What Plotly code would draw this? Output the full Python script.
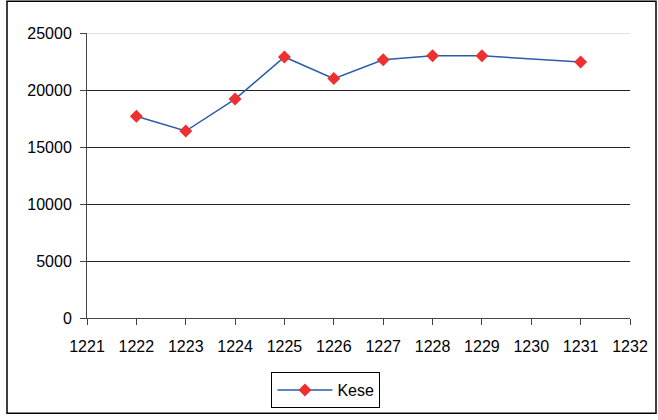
import plotly.graph_objects as go

years = [1222, 1223, 1224, 1225, 1226, 1227, 1228, 1229, 1231]
kese = [17700, 16400, 19200, 22900, 21000, 22650, 23000, 23000, 22450]
series_name = "Kese"
x_ticks = list(range(1221, 1233))
y_ticks = [0, 5000, 10000, 15000, 20000, 25000]
y_tick_labels = [str(v) for v in y_ticks]

fig = go.Figure()
fig.add_trace(go.Scatter(
    x=years, y=kese, name=series_name, mode="lines+markers",
    line=dict(color="#2a5caa", width=1.5),
    marker=dict(symbol="diamond", size=10, color="#ee3030", line=dict(width=0)),
))

font = dict(family="Liberation Sans, Arial, sans-serif", size=16, color="#000")
fig.update_layout(
    width=658, height=420,
    margin=dict(l=87, r=28, t=33, b=100),
    paper_bgcolor="white", plot_bgcolor="white",
    font=font,
    showlegend=True,
    legend=dict(x=0.44, y=-0.19, xanchor="center", yanchor="top",
                bordercolor="#000", borderwidth=1, bgcolor="white",
                itemwidth=55, font=font),
    xaxis=dict(range=[1221, 1232], tickvals=x_ticks, showgrid=False,
               showline=True, linecolor="#444", linewidth=1,
               ticks="outside", ticklen=6, tickcolor="#444",
               ticklabelstandoff=8,
               zeroline=False, tickfont=font, automargin=False),
    yaxis=dict(range=[0, 25000], tickvals=y_ticks, ticktext=y_tick_labels,
               showgrid=True, gridcolor="#222", gridwidth=1,
               showline=True, linecolor="#444", linewidth=1,
               ticks="outside", ticklen=6, tickcolor="#444",
               ticklabelstandoff=5,
               zeroline=False, tickfont=font, automargin=False),
    shapes=[
        dict(type="line", xref="paper", yref="y", x0=0, x1=1, y0=25000, y1=25000,
             line=dict(color="#d8d8d8", width=1.5)),
        dict(type="rect", xref="paper", yref="paper",
             x0=(7 - 87) / 543, x1=(656 - 87) / 543,
             y0=(320 - 416) / 287, y1=(320 - 1) / 287,
             line=dict(color="#000", width=1.5)),
    ],
)
fig.write_html(
    "out.html",
    config={"displayModeBar": False},
    post_script="document.body.style.margin='0';document.body.style.overflow='hidden';",
)
